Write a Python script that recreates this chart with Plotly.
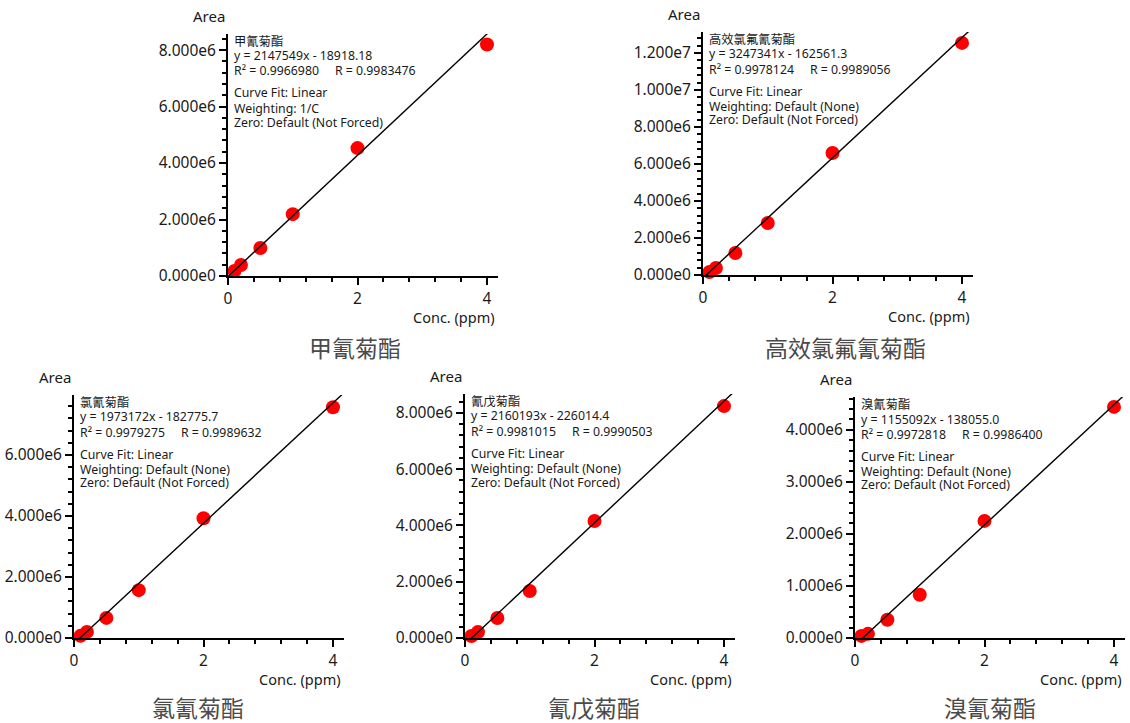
import plotly.graph_objects as go

W, H = 1130, 723

# Calibration levels (ppm)
conc = [0.1, 0.2, 0.5, 1.0, 2.0, 4.0]

# Compound names
names = ["甲氰菊酯", "高效氯氟氰菊酯", "氯氰菊酯", "氰戊菊酯", "溴氰菊酯"]

# Peak areas per level
area_fenpropathrin = [0.18e6, 0.39e6, 0.99e6, 2.19e6, 4.53e6, 8.20e6]
area_lambda_cyhalothrin = [0.16e6, 0.38e6, 1.19e6, 2.81e6, 6.59e6, 12.54e6]
area_cypermethrin = [0.07e6, 0.20e6, 0.66e6, 1.57e6, 3.93e6, 7.57e6]
area_fenvalerate = [0.07e6, 0.21e6, 0.71e6, 1.67e6, 4.16e6, 8.24e6]
area_deltamethrin = [0.04e6, 0.08e6, 0.35e6, 0.83e6, 2.25e6, 4.44e6]
areas = [area_fenpropathrin, area_lambda_cyhalothrin, area_cypermethrin,
         area_fenvalerate, area_deltamethrin]

# Linear fit results
slopes = [2147549, 3247341, 1973172, 2160193, 1155092]
intercepts = [-18918.18, -162561.3, -182775.7, -226014.4, -138055.0]
r_squared = ["0.9966980", "0.9978124", "0.9979275", "0.9981015", "0.9972818"]
r_values = ["0.9983476", "0.9989056", "0.9989632", "0.9990503", "0.9986400"]
weighting = ["1/C", "Default (None)", "Default (None)", "Default (None)", "Default (None)"]

# Axis scales
x_max = 4.17
x_major = 2
x_minor = 0.4
y_max = [8.57e6, 13.13e6, 7.97e6, 8.67e6, 4.63e6]
y_major = [2e6, 2e6, 2e6, 2e6, 1e6]

# Plot-area boxes in pixels: left, right, top, bottom
boxes = [(228, 498, 34, 276), (703, 973, 32, 275), (74, 344, 395, 638),
         (465, 735, 394, 638), (855, 1125, 397, 638)]
# Centre of each compound caption in pixels
captions = [(355, 347), (845, 347), (198, 707), (594, 707), (990, 707)]

FONT = "Noto Sans, Noto Sans CJK SC, sans-serif"
CJK = "Noto Sans CJK SC, sans-serif"


def px_x(p):
    return p / W


def px_y(p):
    return 1 - p / H


def sci(v):
    if v == 0:
        return "0.000e0"
    m, e = f"{v:.3e}".split("e")
    return f"{m}e{int(e)}"


def fixed7(v):
    digits = len(str(int(abs(v))))
    return f"{abs(v):.{max(7 - digits, 0)}f}"


def steps(stop, step):
    out, k = [], 0
    while k * step <= stop * (1 + 1e-9):
        out.append(k * step)
        k += 1
    return out


fig = go.Figure()
annotations = []
layout = {}

for i in range(5):
    n = i + 1
    xa = "x" if n == 1 else f"x{n}"
    ya = "y" if n == 1 else f"y{n}"
    L, R, T, B = boxes[i]

    fig.add_trace(go.Scatter(
        x=conc, y=areas[i], mode="markers", xaxis=xa, yaxis=ya,
        marker=dict(color="#ff0000", size=14, line=dict(width=0)),
        cliponaxis=False, showlegend=False, hoverinfo="x+y"))

    fx = [0, x_max]
    fy = [slopes[i] * v + intercepts[i] for v in fx]
    fig.add_trace(go.Scatter(
        x=fx, y=fy, mode="lines", xaxis=xa, yaxis=ya,
        line=dict(color="black", width=1.4), showlegend=False, hoverinfo="skip"))

    yt = steps(y_max[i], y_major[i])
    ym = steps(y_max[i], y_major[i] / 5)
    xt = steps(x_max, x_major)
    xm = steps(x_max, x_minor)

    axis_common = dict(
        showline=True, linecolor="black", linewidth=2, showgrid=False,
        zeroline=False, automargin=False,
        ticks="outside", ticklen=7, tickwidth=2, tickcolor="black",
        tickfont=dict(family=FONT, size=15.5, color="#1a1a1a"),
    )
    layout["xaxis" if n == 1 else f"xaxis{n}"] = dict(
        axis_common, domain=[px_x(L), px_x(R)], anchor=ya, range=[0, x_max],
        tickmode="array", tickvals=xt, ticktext=[f"{v:g}" for v in xt],
        minor=dict(tickmode="array", tickvals=xm, ticks="outside", ticklen=4,
                   tickwidth=2, tickcolor="black", showgrid=False),
    )
    layout["yaxis" if n == 1 else f"yaxis{n}"] = dict(
        axis_common, domain=[px_y(B), px_y(T)], anchor=xa, range=[0, y_max[i]],
        tickmode="array", tickvals=yt, ticktext=[sci(v) for v in yt],
        minor=dict(tickmode="array", tickvals=ym, ticks="outside", ticklen=4,
                   tickwidth=2, tickcolor="black", showgrid=False),
    )

    # Axis titles
    annotations.append(dict(
        text="Area", xref="paper", yref="paper", x=px_x(L - 1), y=px_y(T - 18),
        xanchor="right", yanchor="middle", showarrow=False,
        font=dict(family=FONT, size=15, color="#1a1a1a")))
    annotations.append(dict(
        text="Conc. (ppm)", xref="paper", yref="paper", x=px_x(R - 1), y=px_y(B + 41),
        xanchor="right", yanchor="middle", showarrow=False,
        font=dict(family=FONT, size=14.5, color="#1a1a1a")))

    # Fit summary block
    sign = "-" if intercepts[i] < 0 else "+"
    lines = [
        names[i],
        f"y = {slopes[i]}x {sign} {fixed7(intercepts[i])}",
        f"R² = {r_squared[i]}" + "\u00a0" * 5 + f"R = {r_values[i]}",
        "Curve Fit: Linear",
        f"Weighting: {weighting[i]}",
        "Zero: Default (Not Forced)",
    ]
    offsets = [7, 22, 37, 59, 74, 88]
    for txt, off in zip(lines, offsets):
        annotations.append(dict(
            text=txt, xref="paper", yref="paper", x=px_x(L + 4), y=px_y(T + off),
            xanchor="left", yanchor="middle", showarrow=False,
            font=dict(family=FONT, size=12.3, color="#1a1a1a")))

    # Compound caption
    cx, cy = captions[i]
    annotations.append(dict(
        text=names[i], xref="paper", yref="paper", x=px_x(cx), y=px_y(cy),
        xanchor="center", yanchor="middle", showarrow=False,
        font=dict(family=CJK, size=23, color="#4a4a4a")))

fig.update_layout(
    width=W, height=H, margin=dict(l=0, r=0, t=0, b=0, autoexpand=False),
    paper_bgcolor="white", plot_bgcolor="white",
    annotations=annotations, **layout,
)

fig.write_html("out.html")
